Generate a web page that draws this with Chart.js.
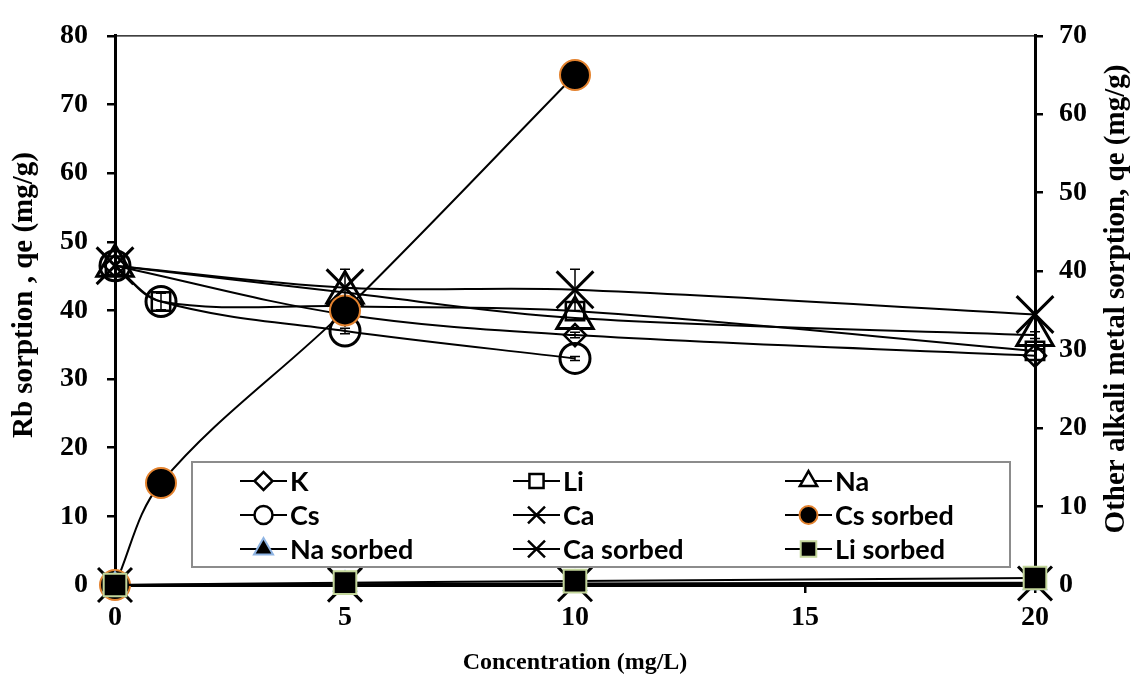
<!DOCTYPE html>
<html><head><meta charset="utf-8">
<script src="https://cdn.jsdelivr.net/npm/chart.js"></script>
<style>html,body{margin:0;padding:0;background:#fff}#wrap{width:1138px;height:677px;position:relative}</style>
</head><body><div id="wrap"><canvas id="c" width="1138" height="677"></canvas></div>
<script>
// ---- data ----
const concentration = [0, 1, 5, 10, 20];           // mg/L
const seriesNames = ['K', 'Li', 'Na', 'Cs', 'Ca', 'Cs sorbed', 'Na sorbed', 'Ca sorbed', 'Li sorbed'];
// Rb sorption qe (mg/g), left axis
const K_qe  = [46.5, null, 39.4, 36.4, 33.4];
const Li_qe = [46.5, 41.3, 40.6, 39.9, 34.1];
const Na_qe = [46.5, null, 42.6, 38.9, 36.4];
const Cs_qe = [46.5, 41.3, 37.0, 33.0, null];
const Ca_qe = [46.5, null, 43.3, 43.0, 39.4];
// error bars (± mg/g) for Rb sorption
const K_err  = [0, 0, 0, 0.4, 0];
const Li_err = [0, 1.2, 0, 0, 0];
const Na_err = [0, 0, 0, 0, 0.5];
const Cs_err = [0, 0, 0.4, 0.3, 0];
const Ca_err = [0, 0, 2.7, 3.0, 0];
// other alkali metal sorption qe (mg/g), right axis
const Cs_sorbed = [0, 13, 35, 65, null];
const Na_sorbed = [0, null, 0.1, 0.2, 0.3];
const Ca_sorbed = [0, null, 0.05, 0.1, 0.2];
const Li_sorbed = [0, null, 0.3, 0.5, 0.9];
// axis ranges / tick steps
const xRange = [0, 20], xStep = 5;
const leftRange = [0, 80], leftStep = 10;
const rightRange = [0, 70], rightStep = 10;
const xTitle = 'Concentration (mg/L)';
const leftTitle = 'Rb sorption , qe (mg/g)';
const rightTitle = 'Other alkali metal sorption, qe (mg/g)';

// ---- build datasets ----
function pts(vals) {
  const out = [];
  vals.forEach((v, i) => { if (v !== null) out.push({x: concentration[i], y: v}); });
  return out;
}
const CLEAR = 'rgba(0,0,0,0)';
const styles = [
  {ps: 'rectRot', r: 11, bg: CLEAR, bc: '#000', bw: 2.5, lr: 9},
  {ps: 'rect', r: 13, bg: CLEAR, bc: '#000', bw: 2.5, lr: 10},
  {ps: 'triangle', r: 21, bg: CLEAR, bc: '#000', bw: 3, lr: 10},
  {ps: 'circle', r: 15, bg: CLEAR, bc: '#000', bw: 3, lr: 9},
  {ps: 'crossRot', r: 26, bg: CLEAR, bc: '#000', bw: 3, lr: 12},
  {ps: 'circle', r: 15, bg: '#000', bc: '#E3822E', bw: 2, lr: 9},
  {ps: 'triangle', r: 13, bg: '#000', bc: '#8EB4E3', bw: 2, lr: 11},
  {ps: 'crossRot', r: 24, bg: '#000', bc: '#000', bw: 3, lr: 12},
  {ps: 'rect', r: 16, bg: '#000', bc: '#C3D69B', bw: 2, lr: 11}
];
const values = [K_qe, Li_qe, Na_qe, Cs_qe, Ca_qe, Cs_sorbed, Na_sorbed, Ca_sorbed, Li_sorbed];
const errors = [K_err, Li_err, Na_err, Cs_err, Ca_err, null, null, null, null];
const datasets = values.map((v, i) => ({
  label: seriesNames[i],
  data: pts(v),
  yAxisID: i < 5 ? 'y' : 'y2',
  showLine: true,
  tension: 0.35,
  borderColor: '#000',
  borderWidth: 2,
  pointStyle: styles[i].ps,
  pointRadius: styles[i].r,
  pointBackgroundColor: styles[i].bg,
  pointBorderColor: styles[i].bc,
  pointBorderWidth: styles[i].bw,
  pointHoverRadius: styles[i].r,
  clip: false,
  order: 20 - i
}));

const serif = '"Liberation Serif", "Times New Roman", serif';

const errorBars = {
  id: 'errorBars',
  afterDatasetsDraw(chart) {
    const ctx = chart.ctx, xs = chart.scales.x, ys = chart.scales.y;
    ctx.save();
    ctx.strokeStyle = '#000'; ctx.lineWidth = 1.5;
    errors.forEach((err, i) => {
      if (!err) return;
      err.forEach((e, j) => {
        const v = values[i][j];
        if (!e || v === null) return;
        const px = xs.getPixelForValue(concentration[j]);
        const y1 = ys.getPixelForValue(v + e), y2 = ys.getPixelForValue(v - e);
        ctx.beginPath();
        ctx.moveTo(px, y1); ctx.lineTo(px, y2);
        ctx.moveTo(px - 5, y1); ctx.lineTo(px + 5, y1);
        ctx.moveTo(px - 5, y2); ctx.lineTo(px + 5, y2);
        ctx.stroke();
      });
    });
    ctx.restore();
  }
};

function vTitle(ctx, text, x, y) {
  ctx.save();
  ctx.translate(x, y);
  ctx.rotate(-Math.PI / 2);
  ctx.fillStyle = '#000';
  ctx.font = 'bold 29px ' + serif;
  ctx.textAlign = 'center'; ctx.textBaseline = 'middle';
  ctx.fillText(text, 0, 0);
  ctx.restore();
}

const extras = {
  id: 'extras',
  afterDraw(chart) {
    const ctx = chart.ctx, a = chart.chartArea;
    ctx.save();
    // top border
    ctx.strokeStyle = '#000'; ctx.lineWidth = 1.2;
    ctx.beginPath(); ctx.moveTo(a.left, a.top); ctx.lineTo(a.right, a.top); ctx.stroke();
    ctx.restore();
    // vertical axis titles (read bottom to top)
    vTitle(ctx, leftTitle, 25, 295);
    vTitle(ctx, rightTitle, 1117, 299);

    // legend box
    const box = {x: 192, y: 462, w: 818, h: 105};
    ctx.save();
    ctx.fillStyle = '#fff';
    ctx.fillRect(box.x, box.y, box.w, box.h);
    ctx.strokeStyle = '#8c8c8c'; ctx.lineWidth = 2;
    ctx.strokeRect(box.x, box.y, box.w, box.h);
    const colX = [240, 513, 785], rowY = [481, 515, 549];
    ctx.font = 'bold 27px Lato, "Open Sans", sans-serif';
    ctx.textBaseline = 'middle'; ctx.textAlign = 'left';
    seriesNames.forEach((name, i) => {
      const cx = colX[i % 3], cy = rowY[Math.floor(i / 3)];
      ctx.strokeStyle = '#000'; ctx.lineWidth = 2;
      ctx.beginPath(); ctx.moveTo(cx, cy); ctx.lineTo(cx + 47, cy); ctx.stroke();
      const s = styles[i];
      ctx.fillStyle = s.bg === CLEAR ? '#fff' : s.bg;
      ctx.strokeStyle = s.bc; ctx.lineWidth = Math.min(s.bw, 2.5);
      Chart.helpers.drawPoint(ctx, {pointStyle: s.ps, radius: s.lr, rotation: 0, borderWidth: Math.min(s.bw, 2.5)}, cx + 23.5, cy);
      ctx.fillStyle = '#000';
      ctx.fillText(name, cx + 50, cy + 1);
    });
    ctx.restore();
  }
};

new Chart(document.getElementById('c'), {
  type: 'scatter',
  data: {datasets},
  options: {
    responsive: false,
    animation: false,
    devicePixelRatio: 1,
    layout: {padding: {top: 27, left: 0, right: 0, bottom: 0}},
    plugins: {legend: {display: false}, tooltip: {enabled: false}},
    scales: {
      x: {
        type: 'linear', min: xRange[0], max: xRange[1],
        ticks: {stepSize: xStep, color: '#000', padding: 8, font: {family: serif, size: 28, weight: 'bold'}},
        grid: {drawOnChartArea: false, drawTicks: true, tickLength: 8, color: '#000', lineWidth: 2.5},
        border: {display: true, color: '#000', width: 3},
        title: {display: true, text: xTitle, color: '#000', padding: {top: 0, bottom: 0}, font: {family: serif, size: 24, weight: 'bold'}},
        afterFit(s) { s.height = 92; }
      },
      y: {
        type: 'linear', position: 'left', min: leftRange[0], max: leftRange[1],
        ticks: {stepSize: leftStep, color: '#000', padding: 19, font: {family: serif, size: 28, weight: 'bold'}},
        grid: {drawOnChartArea: false, drawTicks: true, tickLength: 8, color: '#000', lineWidth: 2.5},
        border: {display: true, color: '#000', width: 3},
        afterFit(s) { s.width = 115; }
      },
      y2: {
        type: 'linear', position: 'right', min: rightRange[0], max: rightRange[1],
        ticks: {stepSize: rightStep, color: '#000', padding: 16, font: {family: serif, size: 28, weight: 'bold'}},
        grid: {drawOnChartArea: false, drawTicks: true, tickLength: 8, color: '#000', lineWidth: 2.5},
        border: {display: true, color: '#000', width: 3},
        afterFit(s) { s.width = 103; }
      }
    }
  },
  plugins: [errorBars, extras]
});
</script></body></html>
